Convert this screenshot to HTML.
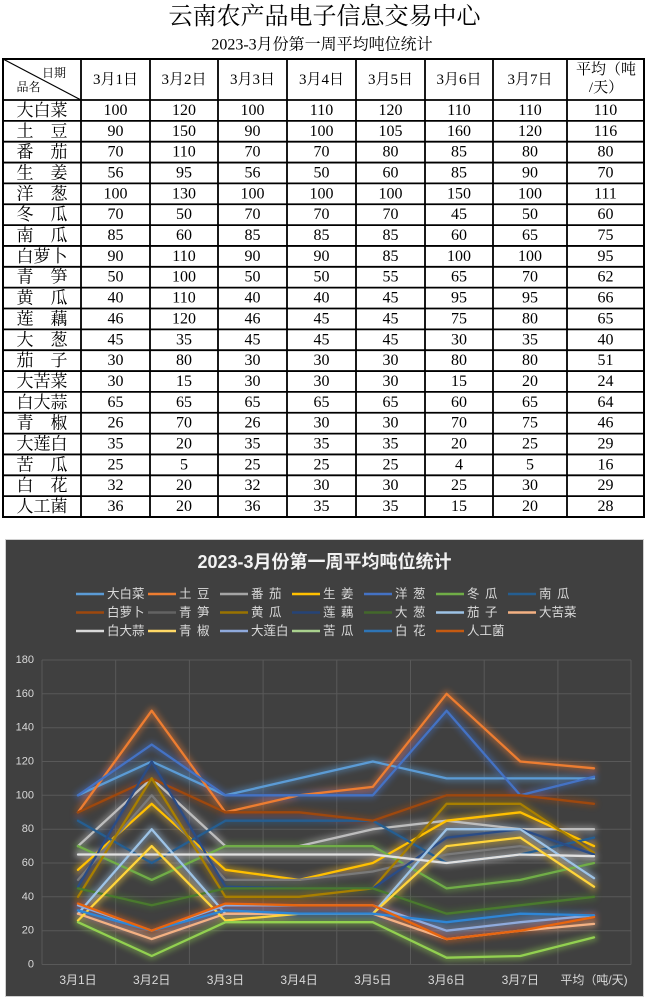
<!DOCTYPE html>
<html><head><meta charset="utf-8">
<style>
html,body{margin:0;padding:0;background:#fff;}
svg{display:block;}
.t{font-family:"Liberation Serif","Noto Serif CJK SC",serif;fill:#000;}
.c{font-family:"Liberation Sans","Noto Sans CJK SC",sans-serif;}
</style></head>
<body>
<svg width="650" height="1003" viewBox="0 0 650 1003" xmlns="http://www.w3.org/2000/svg">
<rect width="650" height="1003" fill="#fff"/>
<!-- Titles -->
<text class="t" x="324.5" y="17" font-size="24" text-anchor="middle" dominant-baseline="central">云南农产品电子信息交易中心</text>
<text class="t" x="322" y="45" font-size="16" text-anchor="middle" dominant-baseline="central">2023-3月份第一周平均吨位统计</text>

<!-- Table grid -->
<g stroke="#000" stroke-width="1.8" fill="none">
<rect x="3" y="59" width="641" height="458" stroke-width="2"/>
<path d="M81 59V517M150 59V517M218 59V517M287 59V517M356 59V517M425 59V517M493 59V517M567 59V517"/>
<path d="M3 100H644M3 120.85H644M3 141.7H644M3 162.55H644M3 183.4H644M3 204.25H644M3 225.1H644M3 245.95H644M3 266.8H644M3 287.65H644M3 308.5H644M3 329.35H644M3 350.2H644M3 371.05H644M3 391.9H644M3 412.75H644M3 433.6H644M3 454.45H644M3 475.3H644M3 496.15H644"/>
<path d="M3 59L81 100" stroke-width="1.2"/>
</g>
<!-- Header -->
<g class="t" font-size="15" text-anchor="middle" dominant-baseline="central">
<text x="54" y="73" font-size="12">日期</text>
<text x="28.5" y="87" font-size="12">品名</text>
<text x="115.5" y="80">3月1日</text>
<text x="184" y="80">3月2日</text>
<text x="252.5" y="80">3月3日</text>
<text x="321.5" y="80">3月4日</text>
<text x="390.5" y="80">3月5日</text>
<text x="459" y="80">3月6日</text>
<text x="530" y="80">3月7日</text>
<text x="606" y="70">平均（吨</text>
<text x="606" y="88">/天）</text>
</g>
<!-- Names -->
<g class="t" font-size="17" text-anchor="middle" dominant-baseline="central">
<text x="42" y="110.4">大白菜</text>
<text x="42" y="131.3">土　豆</text>
<text x="42" y="152.1">番　茄</text>
<text x="42" y="173.0">生　姜</text>
<text x="42" y="193.8">洋　葱</text>
<text x="42" y="214.7">冬　瓜</text>
<text x="42" y="235.5">南　瓜</text>
<text x="42" y="256.4">白萝卜</text>
<text x="42" y="277.2">青　笋</text>
<text x="42" y="298.1">黄　瓜</text>
<text x="42" y="318.9">莲　藕</text>
<text x="42" y="339.8">大　葱</text>
<text x="42" y="360.6">茄　子</text>
<text x="42" y="381.5">大苦菜</text>
<text x="42" y="402.3">白大蒜</text>
<text x="42" y="423.2">青　椒</text>
<text x="42" y="444.0">大莲白</text>
<text x="42" y="464.9">苦　瓜</text>
<text x="42" y="485.7">白　花</text>
<text x="42" y="506.6">人工菌</text>
</g>
<!-- Data -->
<g class="t" font-size="16" text-anchor="middle" dominant-baseline="central">
<g transform="translate(0,110.4)"><text x="115.5">100</text><text x="184">120</text><text x="252.5">100</text><text x="321.5">110</text><text x="390.5">120</text><text x="459">110</text><text x="530">110</text><text x="605.5">110</text></g>
<g transform="translate(0,131.3)"><text x="115.5">90</text><text x="184">150</text><text x="252.5">90</text><text x="321.5">100</text><text x="390.5">105</text><text x="459">160</text><text x="530">120</text><text x="605.5">116</text></g>
<g transform="translate(0,152.1)"><text x="115.5">70</text><text x="184">110</text><text x="252.5">70</text><text x="321.5">70</text><text x="390.5">80</text><text x="459">85</text><text x="530">80</text><text x="605.5">80</text></g>
<g transform="translate(0,173.0)"><text x="115.5">56</text><text x="184">95</text><text x="252.5">56</text><text x="321.5">50</text><text x="390.5">60</text><text x="459">85</text><text x="530">90</text><text x="605.5">70</text></g>
<g transform="translate(0,193.8)"><text x="115.5">100</text><text x="184">130</text><text x="252.5">100</text><text x="321.5">100</text><text x="390.5">100</text><text x="459">150</text><text x="530">100</text><text x="605.5">111</text></g>
<g transform="translate(0,214.7)"><text x="115.5">70</text><text x="184">50</text><text x="252.5">70</text><text x="321.5">70</text><text x="390.5">70</text><text x="459">45</text><text x="530">50</text><text x="605.5">60</text></g>
<g transform="translate(0,235.5)"><text x="115.5">85</text><text x="184">60</text><text x="252.5">85</text><text x="321.5">85</text><text x="390.5">85</text><text x="459">60</text><text x="530">65</text><text x="605.5">75</text></g>
<g transform="translate(0,256.4)"><text x="115.5">90</text><text x="184">110</text><text x="252.5">90</text><text x="321.5">90</text><text x="390.5">85</text><text x="459">100</text><text x="530">100</text><text x="605.5">95</text></g>
<g transform="translate(0,277.2)"><text x="115.5">50</text><text x="184">100</text><text x="252.5">50</text><text x="321.5">50</text><text x="390.5">55</text><text x="459">65</text><text x="530">70</text><text x="605.5">62</text></g>
<g transform="translate(0,298.1)"><text x="115.5">40</text><text x="184">110</text><text x="252.5">40</text><text x="321.5">40</text><text x="390.5">45</text><text x="459">95</text><text x="530">95</text><text x="605.5">66</text></g>
<g transform="translate(0,318.9)"><text x="115.5">46</text><text x="184">120</text><text x="252.5">46</text><text x="321.5">45</text><text x="390.5">45</text><text x="459">75</text><text x="530">80</text><text x="605.5">65</text></g>
<g transform="translate(0,339.8)"><text x="115.5">45</text><text x="184">35</text><text x="252.5">45</text><text x="321.5">45</text><text x="390.5">45</text><text x="459">30</text><text x="530">35</text><text x="605.5">40</text></g>
<g transform="translate(0,360.6)"><text x="115.5">30</text><text x="184">80</text><text x="252.5">30</text><text x="321.5">30</text><text x="390.5">30</text><text x="459">80</text><text x="530">80</text><text x="605.5">51</text></g>
<g transform="translate(0,381.5)"><text x="115.5">30</text><text x="184">15</text><text x="252.5">30</text><text x="321.5">30</text><text x="390.5">30</text><text x="459">15</text><text x="530">20</text><text x="605.5">24</text></g>
<g transform="translate(0,402.3)"><text x="115.5">65</text><text x="184">65</text><text x="252.5">65</text><text x="321.5">65</text><text x="390.5">65</text><text x="459">60</text><text x="530">65</text><text x="605.5">64</text></g>
<g transform="translate(0,423.2)"><text x="115.5">26</text><text x="184">70</text><text x="252.5">26</text><text x="321.5">30</text><text x="390.5">30</text><text x="459">70</text><text x="530">75</text><text x="605.5">46</text></g>
<g transform="translate(0,444.0)"><text x="115.5">35</text><text x="184">20</text><text x="252.5">35</text><text x="321.5">35</text><text x="390.5">35</text><text x="459">20</text><text x="530">25</text><text x="605.5">29</text></g>
<g transform="translate(0,464.9)"><text x="115.5">25</text><text x="184">5</text><text x="252.5">25</text><text x="321.5">25</text><text x="390.5">25</text><text x="459">4</text><text x="530">5</text><text x="605.5">16</text></g>
<g transform="translate(0,485.7)"><text x="115.5">32</text><text x="184">20</text><text x="252.5">32</text><text x="321.5">30</text><text x="390.5">30</text><text x="459">25</text><text x="530">30</text><text x="605.5">29</text></g>
<g transform="translate(0,506.6)"><text x="115.5">36</text><text x="184">20</text><text x="252.5">36</text><text x="321.5">35</text><text x="390.5">35</text><text x="459">15</text><text x="530">20</text><text x="605.5">28</text></g>
</g>

<!-- Chart panel -->
<rect x="5.5" y="539.5" width="638" height="457" fill="#404040" stroke="#d0d0d0" stroke-width="1"/>
<text class="c" x="324.5" y="562" font-size="18" font-weight="bold" fill="#f2f2f2" text-anchor="middle" dominant-baseline="central">2023-3月份第一周平均吨位统计</text>

<!-- Legend -->
<g stroke-width="2.5" fill="none">
<path d="M76 594h28" stroke="#5B9BD5"/><path d="M148 594h28" stroke="#ED7D31"/><path d="M220 594h28" stroke="#A5A5A5"/><path d="M292 594h28" stroke="#FFC000"/><path d="M364 594h28" stroke="#4472C4"/><path d="M436 594h28" stroke="#70AD47"/><path d="M508 594h28" stroke="#255E91"/>
<path d="M76 612.5h28" stroke="#9E480E"/><path d="M148 612.5h28" stroke="#636363"/><path d="M220 612.5h28" stroke="#997300"/><path d="M292 612.5h28" stroke="#264478"/><path d="M364 612.5h28" stroke="#43682B"/><path d="M436 612.5h28" stroke="#9DC3E6"/><path d="M508 612.5h28" stroke="#F4B183"/>
<path d="M76 631h28" stroke="#D9D9D9"/><path d="M148 631h28" stroke="#FFD966"/><path d="M220 631h28" stroke="#8FAADC"/><path d="M292 631h28" stroke="#A9D18E"/><path d="M364 631h28" stroke="#2E75B6"/><path d="M436 631h28" stroke="#C55A11"/>
</g>
<g class="c" font-size="12.5" fill="#d9d9d9" dominant-baseline="central" word-spacing="2">
<text x="107" y="594">大白菜</text><text x="179" y="594">土 豆</text><text x="251" y="594">番 茄</text><text x="323" y="594">生 姜</text><text x="395" y="594">洋 葱</text><text x="467" y="594">冬 瓜</text><text x="539" y="594">南 瓜</text>
<text x="107" y="612.5">白萝卜</text><text x="179" y="612.5">青 笋</text><text x="251" y="612.5">黄 瓜</text><text x="323" y="612.5">莲 藕</text><text x="395" y="612.5">大 葱</text><text x="467" y="612.5">茄 子</text><text x="539" y="612.5">大苦菜</text>
<text x="107" y="631">白大蒜</text><text x="179" y="631">青 椒</text><text x="251" y="631">大莲白</text><text x="323" y="631">苦 瓜</text><text x="395" y="631">白 花</text><text x="467" y="631">人工菌</text>
</g>

<!-- Gridlines -->
<g stroke="#595959" stroke-width="1" fill="none">
<path d="M42 660H631M42 693.8H631M42 727.7H631M42 761.5H631M42 795.3H631M42 829.2H631M42 863H631M42 896.8H631M42 930.7H631M42 964.5H631"/>
<path d="M42 660V964.5M115.7 660V964.5M189.4 660V964.5M263.1 660V964.5M336.8 660V964.5M410.5 660V964.5M484.2 660V964.5M557.9 660V964.5M631 660V964.5"/>
</g>
<!-- Axis labels -->
<g class="c" font-size="11" fill="#d9d9d9" text-anchor="end" dominant-baseline="central">
<text x="34" y="660">180</text><text x="34" y="693.8">160</text><text x="34" y="727.7">140</text><text x="34" y="761.5">120</text><text x="34" y="795.3">100</text><text x="34" y="829.2">80</text><text x="34" y="863">60</text><text x="34" y="896.8">40</text><text x="34" y="930.7">20</text><text x="34" y="964.5">0</text>
</g>
<g class="c" font-size="12" fill="#d9d9d9" text-anchor="middle" dominant-baseline="central">
<text x="78" y="980">3月1日</text><text x="151.7" y="980">3月2日</text><text x="225.4" y="980">3月3日</text><text x="299.1" y="980">3月4日</text><text x="372.8" y="980">3月5日</text><text x="446.6" y="980">3月6日</text><text x="520.3" y="980">3月7日</text><text x="594" y="980">平均（吨/天)</text>
</g>

<defs>
<filter id="glow" filterUnits="userSpaceOnUse" x="0" y="640" width="650" height="350"><feGaussianBlur stdDeviation="3"/></filter>
<g id="lines" fill="none" stroke-linejoin="round" stroke-linecap="round">
<polyline stroke="#5B9BD5" points="78,795.3 151.7,761.5 225.4,795.3 299.1,778.4 372.8,761.5 446.6,778.4 520.3,778.4 594,778.4"/>
<polyline stroke="#ED7D31" points="78,812.3 151.7,710.7 225.4,812.3 299.1,795.3 372.8,786.9 446.6,693.8 520.3,761.5 594,768.3"/>
<polyline stroke="#BDBDBD" points="78,846.1 151.7,778.4 225.4,846.1 299.1,846.1 372.8,829.2 446.6,820.7 520.3,829.2 594,829.2"/>
<polyline stroke="#FFC000" points="78,869.8 151.7,803.8 225.4,869.8 299.1,879.9 372.8,863 446.6,820.7 520.3,812.3 594,846.1"/>
<polyline stroke="#4472C4" points="78,795.3 151.7,744.6 225.4,795.3 299.1,795.3 372.8,795.3 446.6,710.7 520.3,795.3 594,776.7"/>
<polyline stroke="#70AD47" points="78,846.1 151.7,879.9 225.4,846.1 299.1,846.1 372.8,846.1 446.6,888.4 520.3,879.9 594,863"/>
<polyline stroke="#255E91" points="78,820.7 151.7,863 225.4,820.7 299.1,820.7 372.8,820.7 446.6,863 520.3,854.5 594,837.6"/>
<polyline stroke="#9E480E" points="78,812.3 151.7,778.4 225.4,812.3 299.1,812.3 372.8,820.7 446.6,795.3 520.3,795.3 594,803.8"/>
<polyline stroke="#7A7A7A" points="78,879.9 151.7,795.3 225.4,879.9 299.1,879.9 372.8,871.5 446.6,854.5 520.3,846.1 594,859.6"/>
<polyline stroke="#A87F00" points="78,896.8 151.7,778.4 225.4,896.8 299.1,896.8 372.8,888.4 446.6,803.8 520.3,803.8 594,852.8"/>
<polyline stroke="#2A4C86" points="78,886.7 151.7,761.5 225.4,886.7 299.1,888.4 372.8,888.4 446.6,837.6 520.3,829.2 594,854.5"/>
<polyline stroke="#4A7A2E" points="78,888.4 151.7,905.3 225.4,888.4 299.1,888.4 372.8,888.4 446.6,913.7 520.3,905.3 594,896.8"/>
<polyline stroke="#9DC3E6" points="78,913.7 151.7,829.2 225.4,913.7 299.1,913.7 372.8,913.7 446.6,829.2 520.3,829.2 594,878.2"/>
<polyline stroke="#F4B183" points="78,913.7 151.7,939.1 225.4,913.7 299.1,913.7 372.8,913.7 446.6,939.1 520.3,930.7 594,923.9"/>
<polyline stroke="#E0E0E0" points="78,854.5 151.7,854.5 225.4,854.5 299.1,854.5 372.8,854.5 446.6,863 520.3,854.5 594,856.2"/>
<polyline stroke="#FFD43B" points="78,920.5 151.7,846.1 225.4,920.5 299.1,913.7 372.8,913.7 446.6,846.1 520.3,837.6 594,886.7"/>
<polyline stroke="#8FAADC" points="78,905.3 151.7,930.7 225.4,905.3 299.1,905.3 372.8,905.3 446.6,930.7 520.3,922.2 594,915.4"/>
<polyline stroke="#92D050" points="78,922.2 151.7,956 225.4,922.2 299.1,922.2 372.8,922.2 446.6,957.7 520.3,956 594,937.4"/>
<polyline stroke="#2E86D6" points="78,910.4 151.7,930.7 225.4,910.4 299.1,913.7 372.8,913.7 446.6,922.2 520.3,913.7 594,915.4"/>
<polyline stroke="#E8650F" points="78,903.6 151.7,930.7 225.4,903.6 299.1,905.3 372.8,905.3 446.6,939.1 520.3,930.7 594,917.1"/>
</g>
</defs>
<use href="#lines" stroke-width="7" opacity="0.45" filter="url(#glow)"/>
<use href="#lines" stroke-width="2.3"/>
</svg>
</body></html>
